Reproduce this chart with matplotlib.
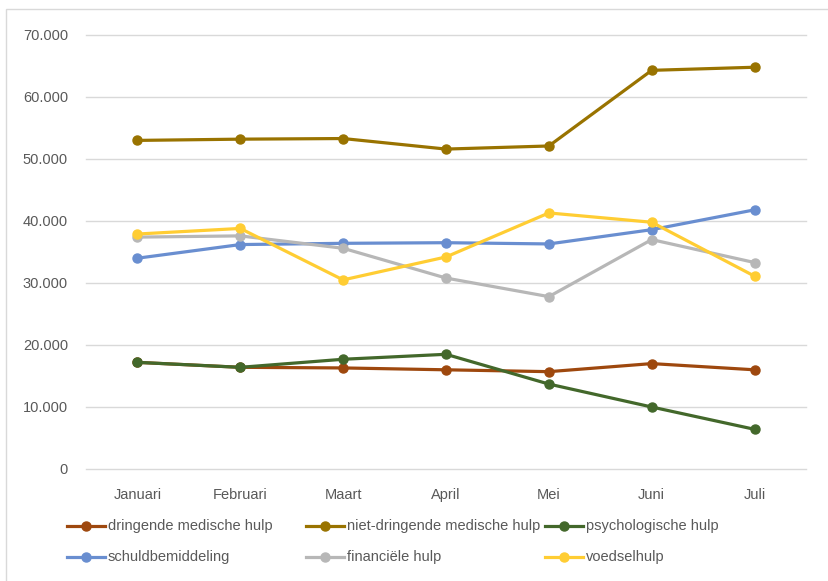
import matplotlib
matplotlib.use("Agg")
import matplotlib.pyplot as plt
from matplotlib.lines import Line2D
from matplotlib.patches import Rectangle
from matplotlib.ticker import FuncFormatter, MultipleLocator

plt.rcParams['font.family'] = ['Liberation Sans', 'DejaVu Sans']

months = ["Januari", "Februari", "Maart", "April", "Mei", "Juni", "Juli"]

dringende = [17200, 16400, 16300, 16000, 15700, 17000, 16000]
niet_dringende = [53000, 53200, 53300, 51600, 52100, 64300, 64800]
psychologische = [17200, 16400, 17700, 18500, 13700, 10000, 6400]
schuldbemiddeling = [34000, 36200, 36400, 36500, 36300, 38600, 41800]
financiele = [37400, 37600, 35600, 30800, 27800, 37000, 33300]
voedselhulp = [37900, 38800, 30500, 34200, 41300, 39800, 31100]

series_labels = ["dringende medische hulp", "niet-dringende medische hulp",
                 "psychologische hulp", "schuldbemiddeling",
                 "financiële hulp", "voedselhulp"]
series_values = [dringende, niet_dringende, psychologische,
                 schuldbemiddeling, financiele, voedselhulp]
colors = ["#9E480E", "#997300", "#43682B", "#698ED0", "#B7B7B7", "#FFCD33"]

W, H = 829, 581
fig = plt.figure(figsize=(W / 100, H / 100), dpi=100)
ax = fig.add_axes([86 / W, 1 - 469 / H, (806 - 86) / W, (469 - 35) / H])

# chart border (left/top visible)
fig.add_artist(Rectangle((6 / W, -0.05), 1.2, 1 - 9 / H + 0.05,
                         transform=fig.transFigure, fill=False,
                         edgecolor="#D9D9D9", linewidth=1.0))

x = list(range(len(months)))
for vals, c, lab in zip(series_values, colors, series_labels):
    ax.plot(x, vals, color=c, linewidth=2.3, marker="o", markersize=6.5,
            label=lab, solid_capstyle="round", zorder=3)

ax.set_xlim(-0.5, 6.5)
ax.set_ylim(0, 70000)
ax.yaxis.set_major_locator(MultipleLocator(10000))
ax.yaxis.set_major_formatter(FuncFormatter(
    lambda v, p: "0" if v == 0 else f"{int(v):,}".replace(",", ".")))
ax.set_xticks(x)
ax.set_xticklabels(months)
ax.grid(axis="y", color="#D9D9D9", linewidth=1.0, zorder=0)
ax.set_axisbelow(True)
for gl in ax.get_ygridlines():
    gl.set_clip_on(False)
for s in ax.spines.values():
    s.set_visible(False)
ax.tick_params(axis="both", length=0, colors="#595959", labelsize=10.5)
ax.tick_params(axis="y", pad=13)
ax.tick_params(axis="x", pad=14)

# manual legend (Excel style, equal column widths)
col_x = [67, 306, 545]
row_y = [526, 557]
for i, (lab, c) in enumerate(zip(series_labels, colors)):
    r, ci = divmod(i, 3)
    x0 = col_x[ci]
    yy = 1 - row_y[r] / H
    xs = [x0 / W, (x0 + 19) / W, (x0 + 38) / W]
    fig.add_artist(Line2D(xs, [yy] * 3, transform=fig.transFigure,
                          color=c, linewidth=2.3, marker="o", markersize=6.5,
                          markevery=[1]))
    fig.text((x0 + 41) / W, yy, lab, ha="left", va="center",
             color="#595959", fontsize=10.5)

fig.savefig("out.png", dpi=100)
